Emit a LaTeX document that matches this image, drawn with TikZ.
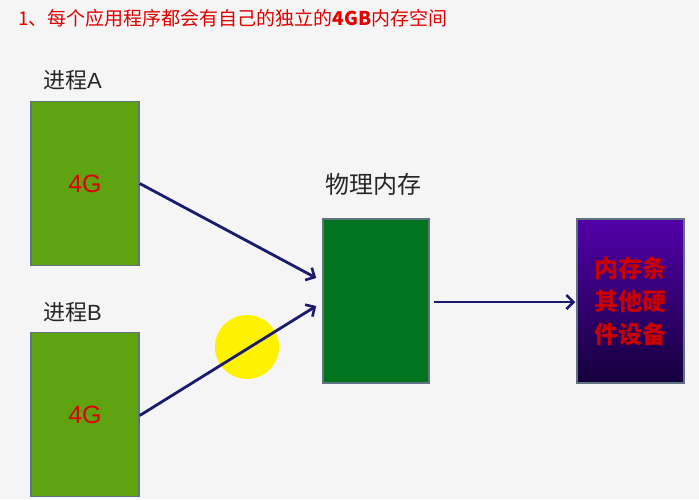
\documentclass[tikz,border=0pt]{standalone}
\usepackage{fontspec}
\setmainfont{Liberation Sans}
\newfontfamily\cjk{Noto Sans CJK SC}
\usetikzlibrary{arrows.meta}
\definecolor{bg}{HTML}{F5F5F5}
\definecolor{procgreen}{HTML}{5FA311}
\definecolor{physgreen}{HTML}{00741E}
\definecolor{boxedge}{HTML}{5F7480}
\definecolor{arrowblue}{HTML}{1A1A6E}
\definecolor{txtred}{HTML}{E00000}
\definecolor{purtop}{HTML}{5200A8}
\definecolor{purbot}{HTML}{14003C}
\tikzset{
  procbox/.style={draw=boxedge, line width=1.5pt, fill=procgreen, minimum width=108pt, minimum height=164pt, inner sep=0pt, font=\fontsize{25}{30}\selectfont, text=txtred},
  physbox/.style={draw=boxedge, line width=1.5pt, fill=physgreen, minimum width=106pt, minimum height=164pt, inner sep=0pt},
  devbox/.style={draw=boxedge, line width=1.5pt, top color=purtop, bottom color=purbot, minimum width=107pt, minimum height=164pt, inner sep=0pt, text=txtred!90!black, align=center, font=\cjk\bfseries\fontsize{24}{33}\selectfont},
  lbl/.style={font=\cjk\fontsize{22}{26}\selectfont, text=black!85, inner sep=0pt},
  conn/.style={draw=arrowblue, line width=2.8pt, -{Straight Barb[length=7pt,width=14pt,line width=2.6pt]}}
}
\begin{document}
\begin{tikzpicture}[x=1pt,y=-1pt]
\useasboundingbox[fill=bg] (0,0) rectangle (699,499);
\node[anchor=west, inner sep=0pt, text=txtred, font=\cjk\fontsize{19}{23}\selectfont] (title) at (18,18) {1、每个应用程序都会有自己的独立的{\bfseries 4GB}内存空间};
\node[lbl, anchor=west] (la) at (43,80) {进程{\fontspec{Liberation Sans}A}};
\node[lbl, anchor=west] (lb) at (43,312) {进程{\fontspec{Liberation Sans}B}};
\node[lbl, anchor=west, font=\cjk\fontsize{24}{28}\selectfont] (lp) at (325,184) {物理内存};
\node[procbox] (A) at (85,183.5) {4G};
\node[procbox] (B) at (85,414.5) {4G};
\node[physbox] (phys) at (376,301) {};
\node[devbox] (dev) at (630.5,301) {内存条\\其他硬\\件设备};
\node[circle, fill=yellow, minimum size=64pt, inner sep=0pt] (hl) at (247,347) {};
\draw[conn] (A.east) -- ([xshift=-6pt,yshift=23pt]phys.west);
\draw[conn] ([yshift=-1pt]B.east) -- ([xshift=-6pt,yshift=-5pt]phys.west);
\draw[conn] ([xshift=4pt,yshift=-1pt]phys.east) -- ([xshift=-1pt,yshift=-1pt]dev.west);
\end{tikzpicture}
\end{document}
